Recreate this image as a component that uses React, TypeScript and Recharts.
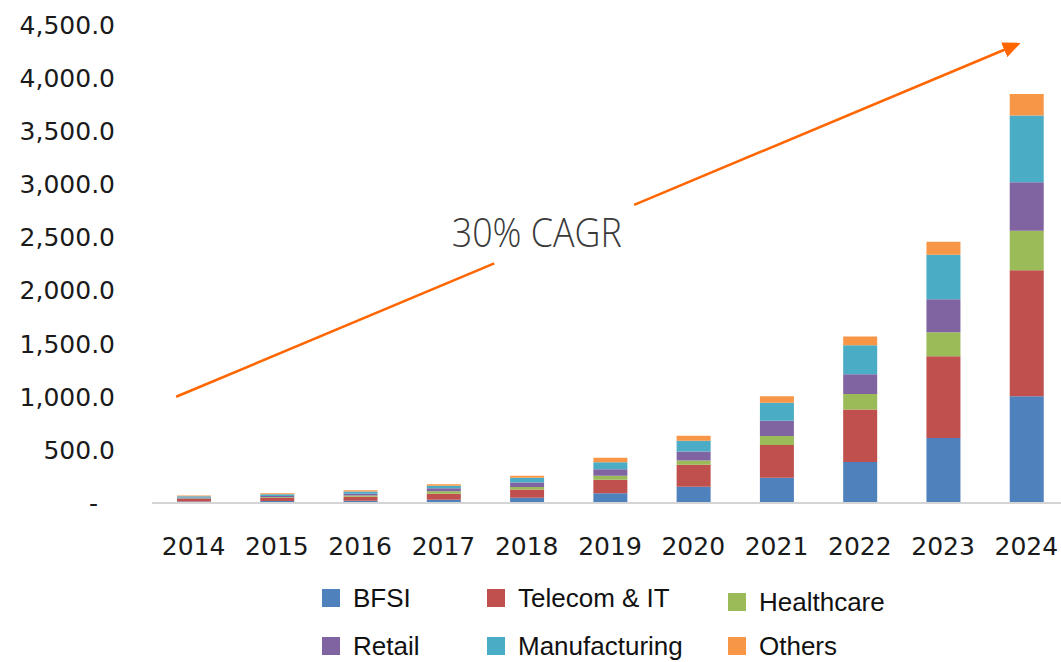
import { BarChart, Bar, XAxis, YAxis, Legend, ReferenceLine, ReferenceDot } from 'recharts';

const years = ['2014', '2015', '2016', '2017', '2018', '2019', '2020', '2021', '2022', '2023', '2024'];
const bfsi = [15, 18, 22, 30, 50, 91, 153, 238, 385, 611, 1006];
const telecom = [22, 28, 38, 58, 78, 128, 207, 307, 495, 771, 1184];
const healthcare = [6, 8, 10, 22, 22, 38, 41, 85, 147, 226, 373];
const retail = [9, 12, 18, 30, 44, 60, 85, 144, 185, 310, 457];
const manufacturing = [11, 16, 20, 22, 44, 66, 100, 169, 273, 420, 627];
const others = [7, 9, 11, 14, 19, 44, 47, 63, 82, 122, 204];

const yTicks = [0, 500, 1000, 1500, 2000, 2500, 3000, 3500, 4000, 4500];

// arrow annotation, in (year index, value) space; broken around the label
const arrowLower = [{ x: -0.21, y: 1000 }, { x: 3.61, y: 2255 }];
const arrowUpper = [{ x: 5.29, y: 2807 }, { x: 9.9, y: 4321 }];
const cagrLabel = { x: 4.12, y: 2410, text: '30% CAGR' };

const series = [
  { key: 'bfsi', name: 'BFSI', values: bfsi, color: '#4F81BD' },
  { key: 'telecom', name: 'Telecom & IT', values: telecom, color: '#C0504D' },
  { key: 'healthcare', name: 'Healthcare', values: healthcare, color: '#9BBB59' },
  { key: 'retail', name: 'Retail', values: retail, color: '#8064A2' },
  { key: 'manufacturing', name: 'Manufacturing', values: manufacturing, color: '#4BACC6' },
  { key: 'others', name: 'Others', values: others, color: '#F79646' },
];

const data = years.map((year, i) => {
  const row: Record<string, string | number> = { year, idx: i };
  series.forEach((s) => {
    row[s.key] = s.values[i];
  });
  return row;
});

const YTick = (props: any) => {
  const { x, y, payload } = props;
  const v = payload.value as number;
  const label = v === 0
    ? '-'
    : v.toLocaleString('en-US', { minimumFractionDigits: 1, maximumFractionDigits: 1 });
  return (
    <text
      x={v === 0 ? x - 17 : x}
      y={y}
      dy="0.355em"
      textAnchor="end"
      fill="#1a1a1a"
      fontSize={25}
      fontFamily="DejaVu Sans"
    >
      {label}
    </text>
  );
};

const legendCols = [322, 487, 728];
const legendRows = [10, 58];

// legend follows the series order (Recharts sorts its payload by name)
const LegendContent = () => (
  <div style={{ position: 'relative', width: 1061, height: 87 }}>
    {series.map((s, i) => (
      <div
        key={s.key}
        style={{
          position: 'absolute',
          left: legendCols[i % 3],
          top: legendRows[Math.floor(i / 3)] + (i === 2 ? 4 : 0),
          height: 26,
          lineHeight: '26px',
          display: 'flex',
          alignItems: 'center',
          fontFamily: '"Liberation Sans", Arial, sans-serif',
          fontSize: 26,
          color: '#111',
          whiteSpace: 'nowrap',
        }}
      >
        <span style={{ width: 18, height: 18, background: s.color, marginRight: 13, display: 'inline-block' }} />
        {s.name}
      </div>
    ))}
  </div>
);

const CagrText = (props: any) => (
  <text
    x={props.cx}
    y={props.cy}
    textAnchor="middle"
    fill="#3a3a3a"
    fontSize={40}
    fontWeight={300}
    fontFamily="'Open Sans', 'Noto Sans', sans-serif"
    textLength={170}
    lengthAdjust="spacingAndGlyphs"
  >
    {cagrLabel.text}
  </text>
);

export default function App() {
  return (
    <div style={{ position: 'absolute', left: 0, top: 0, width: 1061, height: 662, overflow: 'hidden', background: '#fff' }}>
      <BarChart width={1070} height={662} data={data} margin={{ top: 25, right: 2, left: 0, bottom: 12 }}>
        <defs>
          <marker id="arrowHead" markerUnits="userSpaceOnUse" markerWidth={18} markerHeight={16} refX={15} refY={8} orient="auto">
            <path d="M0,0 L18,8 L0,16 z" fill="#FF6600" />
          </marker>
        </defs>
        <XAxis
          dataKey="year"
          height={60}
          tickLine={false}
          tickMargin={28}
          axisLine={{ stroke: '#d4d4d4', strokeWidth: 2 }}
          tick={{ fill: '#1a1a1a', fontSize: 25, fontFamily: 'DejaVu Sans' }}
          interval={0}
        />
        <XAxis xAxisId="arrow" dataKey="idx" type="number" domain={[-0.5, 10.5]} hide allowDataOverflow />
        <YAxis
          width={152}
          domain={[0, 4500]}
          ticks={yTicks}
          axisLine={false}
          tickLine={false}
          tickMargin={31}
          tick={<YTick />}
          interval={0}
        />
        {series.map((s) => (
          <Bar key={s.key} dataKey={s.key} name={s.name} stackId="a" fill={s.color} barSize={34} isAnimationActive={false} />
        ))}
        <ReferenceLine
          xAxisId="arrow"
          segment={arrowLower}
          stroke="#FF6600"
          strokeWidth={2.5}
          ifOverflow="visible"
        />
        <ReferenceLine
          xAxisId="arrow"
          segment={arrowUpper}
          stroke="#FF6600"
          strokeWidth={2.5}
          ifOverflow="visible"
          markerEnd="url(#arrowHead)"
        />
        <ReferenceDot
          xAxisId="arrow"
          x={cagrLabel.x}
          y={cagrLabel.y}
          r={0}
          ifOverflow="visible"
          shape={<CagrText />}
        />
        <Legend
          verticalAlign="bottom"
          height={87}
          content={<LegendContent />}
          wrapperStyle={{ left: 0, top: 575, bottom: 'auto', width: 1061, height: 87 }}
        />
      </BarChart>
    </div>
  );
}
